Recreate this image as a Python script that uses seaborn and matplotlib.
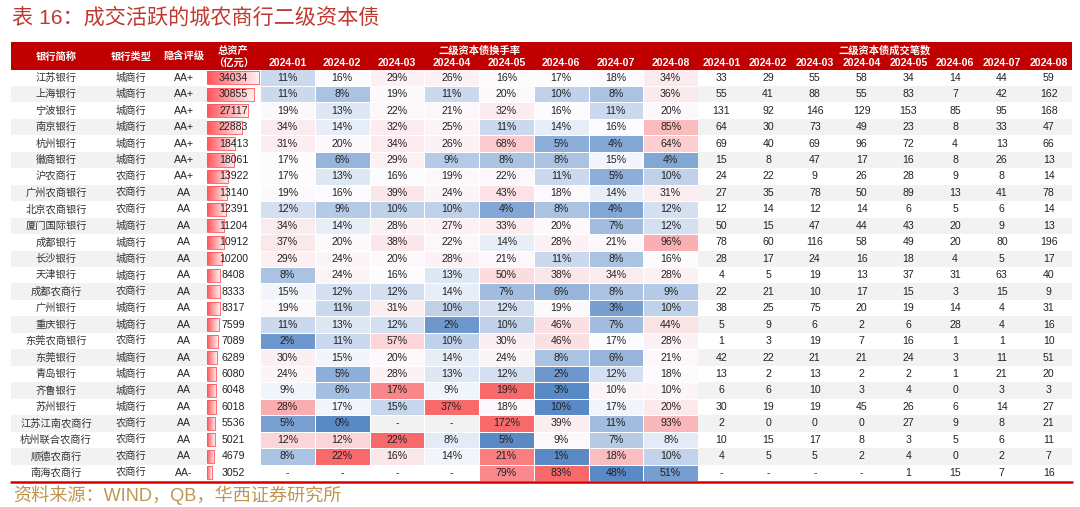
import matplotlib
matplotlib.use('Agg')
import numpy as np
import matplotlib.pyplot as plt
import seaborn as sns
from matplotlib.colors import LinearSegmentedColormap
from matplotlib.transforms import blended_transform_factory

W, H = 1080, 507

banks = ['江苏银行', '上海银行', '宁波银行', '南京银行', '杭州银行', '徽商银行', '沪农商行',
         '广州农商银行', '北京农商银行', '厦门国际银行', '成都银行', '长沙银行', '天津银行',
         '成都农商行', '广州银行', '重庆银行', '东莞农商银行', '东莞银行', '青岛银行', '齐鲁银行',
         '苏州银行', '江苏江南农商行', '杭州联合农商行', '顺德农商行', '南海农商行']
bank_types = ['城商行', '城商行', '城商行', '城商行', '城商行', '城商行', '农商行',
              '农商行', '农商行', '城商行', '城商行', '城商行', '城商行',
              '农商行', '城商行', '城商行', '农商行', '城商行', '城商行', '城商行',
              '城商行', '农商行', '农商行', '农商行', '农商行']
ratings = ['AA+'] * 7 + ['AA'] * 17 + ['AA-']
total_assets = [34034, 30855, 27117, 22883, 18413, 18061, 13922, 13140, 12391, 11204, 10912,
                10200, 8408, 8333, 8317, 7599, 7089, 6289, 6080, 6048, 6018, 5536, 5021, 4679, 3052]
months = ['2024-01', '2024-02', '2024-03', '2024-04', '2024-05', '2024-06', '2024-07', '2024-08']

# 二级资本债换手率 (%), None = '-'
turnover_pct = [
    [11, 16, 29, 26, 16, 17, 18, 34],
    [11, 8, 19, 11, 20, 10, 8, 36],
    [19, 13, 22, 21, 32, 16, 11, 20],
    [34, 14, 32, 25, 11, 14, 16, 85],
    [31, 20, 34, 26, 68, 5, 4, 64],
    [17, 6, 29, 9, 8, 8, 15, 4],
    [17, 13, 16, 19, 22, 11, 5, 10],
    [19, 16, 39, 24, 43, 18, 14, 31],
    [12, 9, 10, 10, 4, 8, 4, 12],
    [34, 14, 28, 27, 33, 20, 7, 12],
    [37, 20, 38, 22, 14, 28, 21, 96],
    [29, 24, 20, 28, 21, 11, 8, 16],
    [8, 24, 16, 13, 50, 38, 34, 28],
    [15, 12, 12, 14, 7, 6, 8, 9],
    [19, 11, 31, 10, 12, 19, 3, 10],
    [11, 13, 12, 2, 10, 46, 7, 44],
    [2, 11, 57, 10, 30, 46, 17, 28],
    [30, 15, 20, 14, 24, 8, 6, 21],
    [24, 5, 28, 13, 12, 2, 12, 18],
    [9, 6, 17, 9, 19, 3, 10, 10],
    [28, 17, 15, 37, 18, 10, 17, 20],
    [5, 0, None, None, 172, 39, 11, 93],
    [12, 12, 22, 8, 5, 9, 7, 8],
    [8, 22, 16, 14, 21, 1, 18, 10],
    [None, None, None, None, 79, 83, 48, 51],
]

# 二级资本债成交笔数, None = '-'
trade_counts = [
    [33, 29, 55, 58, 34, 14, 44, 59],
    [55, 41, 88, 55, 83, 7, 42, 162],
    [131, 92, 146, 129, 153, 85, 95, 168],
    [64, 30, 73, 49, 23, 8, 33, 47],
    [69, 40, 69, 96, 72, 4, 13, 66],
    [15, 8, 47, 17, 16, 8, 26, 13],
    [24, 22, 9, 26, 28, 9, 8, 14],
    [27, 35, 78, 50, 89, 13, 41, 78],
    [12, 14, 12, 14, 6, 5, 6, 14],
    [50, 15, 47, 44, 43, 20, 9, 13],
    [78, 60, 116, 58, 49, 20, 80, 196],
    [28, 17, 24, 16, 18, 4, 5, 17],
    [4, 5, 19, 13, 37, 31, 63, 40],
    [22, 21, 10, 17, 15, 3, 15, 9],
    [38, 25, 75, 20, 19, 14, 4, 31],
    [5, 9, 6, 2, 6, 28, 4, 16],
    [1, 3, 19, 7, 16, 1, 1, 10],
    [42, 22, 21, 21, 24, 3, 11, 51],
    [13, 2, 13, 2, 2, 1, 21, 20],
    [6, 6, 10, 3, 4, 0, 3, 3],
    [30, 19, 19, 45, 26, 6, 14, 27],
    [2, 0, 0, 0, 27, 9, 8, 21],
    [10, 15, 17, 8, 3, 5, 6, 11],
    [4, 5, 5, 2, 4, 0, 2, 7],
    [None, None, None, None, 1, 15, 7, 16],
]

# in the reference these rows carry their own (row-wise) colour scale,
# the others share one scale over the whole block
row_scaled_banks = ['齐鲁银行', '苏州银行', '江苏江南农商行', '杭州联合农商行', '顺德农商行', '南海农商行']

# ---- style ----
sns.set_style('white')
plt.rcParams['font.family'] = ['Liberation Sans', 'Noto Sans CJK SC', 'DejaVu Sans']
CJK = ['Noto Sans CJK SC', 'DejaVu Sans']
HEAD_RED = '#C00000'
TXT = '#222222'
STRIPE = '#F2F2F2'

n = len(banks)
turn = np.array([[np.nan if v is None else v for v in r] for r in turnover_pct], dtype=float)


def excel_scale(v, lo, mid, hi):
    # 3-colour scale: min -> -1, 50th percentile -> 0, max -> +1
    with np.errstate(invalid='ignore', divide='ignore'):
        return np.where(v < mid, (v - mid) / (mid - lo), (v - mid) / (hi - mid))


lo, mid, hi = np.nanmin(turn), np.nanpercentile(turn, 50), np.nanmax(turn)
scaled = excel_scale(turn, lo, mid, hi)
for i, b in enumerate(banks):
    if b in row_scaled_banks:
        r = turn[i]
        scaled[i] = excel_scale(r, np.nanmin(r), np.nanpercentile(r, 50), np.nanmax(r))

turn_labels = np.array([['-' if np.isnan(v) else f'{int(v)}%' for v in r] for r in turn])
excel_cmap = LinearSegmentedColormap.from_list('excel', ['#5A8AC6', '#FCFCFF', '#F8696B'])

# ---- layout in pixels ----
X0, X1 = 11, 1072
ASSET = (207, 260)
TURN = (260, 698)
CNT = (698, 1072)
HEAD_Y = (42, 69.5)
BODY_Y = (69.5, 481)


def px_axes(fig, x0, x1, y0, y1):
    return fig.add_axes([x0 / W, 1 - y1 / H, (x1 - x0) / W, (y1 - y0) / H])


fig = plt.figure(figsize=(W / 100, H / 100), dpi=100)

# striped background for the whole body
ax_bg = px_axes(fig, X0, X1, *BODY_Y)
ax_bg.set_xlim(0, 1)
ax_bg.set_ylim(n - 0.5, -0.5)
for i in range(1, n, 2):
    ax_bg.axhspan(i - 0.5, i + 0.5, color=STRIPE, lw=0)
ax_bg.set_axis_off()

# left text columns
ax_left = px_axes(fig, X0, ASSET[0], *BODY_Y)
ax_left.set_xlim(X0, ASSET[0])
ax_left.set_ylim(n - 0.5, -0.5)
ax_left.set_axis_off()
for i in range(n):
    ax_left.text(56, i, banks[i], ha='center', va='center', fontsize=7.4, color='#333333', family=CJK)
    ax_left.text(131, i, bank_types[i], ha='center', va='center', fontsize=7.4, color='#333333', family=CJK)
    ax_left.text(184, i, ratings[i], ha='center', va='center', fontsize=7.6, color=TXT)

# total assets: gradient data bars
ax_a = px_axes(fig, ASSET[0], ASSET[1], *BODY_Y)
sns.barplot(x=total_assets, y=banks, orient='h', ax=ax_a, width=0.8, color='#FF555A')
bar_cmap = LinearSegmentedColormap.from_list('bar', ['#FF555A', '#FFF2F2'])
grad = np.linspace(0, 1, 128).reshape(1, -1)
for p in list(ax_a.patches):
    x, y, w, h = p.get_x(), p.get_y(), p.get_width(), p.get_height()
    im = ax_a.imshow(grad, extent=[x, x + w, y + h, y], aspect='auto', cmap=bar_cmap, zorder=1)
    im.set_clip_path(p)
    p.set_facecolor('none')
    p.set_edgecolor('#FF555A')
    p.set_linewidth(0.6)
    p.set_zorder(2)
ax_a.set_xlim(0, max(total_assets) * 1.025)
ax_a.set_ylim(n - 0.5, -0.5)
ax_a.set_facecolor('white')
ax_a.set(xticks=[], yticks=[], xlabel='', ylabel='')
for s in ax_a.spines.values():
    s.set_visible(False)
tr = blended_transform_factory(ax_a.transAxes, ax_a.transData)
for i, v in enumerate(total_assets):
    ax_a.text(0.5, i, f'{v}', transform=tr, ha='center', va='center', fontsize=7.6, color=TXT, zorder=3)

# turnover heatmap
ax_t = px_axes(fig, TURN[0], TURN[1], *BODY_Y)
sns.heatmap(scaled, ax=ax_t, cmap=excel_cmap, vmin=-1, vmax=1, mask=np.isnan(turn),
            annot=turn_labels, fmt='', cbar=False, linewidths=0.5, linecolor='white',
            xticklabels=False, yticklabels=False,
            annot_kws=dict(fontsize=7.6, color=TXT))
for i in range(n):
    for j in range(len(months)):
        if np.isnan(turn[i, j]):
            ax_t.text(j + 0.5, i + 0.5, '-', ha='center', va='center', fontsize=7.6, color=TXT)
ax_t.set_axis_off()

# trade counts
ax_c = px_axes(fig, CNT[0], CNT[1], *BODY_Y)
ax_c.set_xlim(0, len(months))
ax_c.set_ylim(n - 0.5, -0.5)
ax_c.set_axis_off()
for i, r in enumerate(trade_counts):
    for j, v in enumerate(r):
        ax_c.text(j + 0.5, i, '-' if v is None else str(v), ha='center', va='center',
                  fontsize=7.6, color=TXT)

# header band
ax_h = px_axes(fig, X0, X1, *HEAD_Y)
ax_h.set_xlim(X0, X1)
ax_h.set_ylim(HEAD_Y[1], HEAD_Y[0])
ax_h.set_facecolor(HEAD_RED)
ax_h.set(xticks=[], yticks=[])
for s in ax_h.spines.values():
    s.set_visible(False)
hk = dict(color='white', fontweight='bold', ha='center', va='center')
for x, lab in zip([56, 131, 184], ['银行简称', '银行类型', '隐含评级']):
    ax_h.text(x, 56.5, lab, fontsize=7.4, family=CJK, **hk)
ax_h.text(sum(ASSET) / 2, 50.5, '总资产', fontsize=7.4, family=CJK, **hk)
ax_h.text(sum(ASSET) / 2, 62.5, '（亿元）', fontsize=7.4, family=CJK, **hk)
ax_h.text(sum(TURN) / 2, 50.5, '二级资本债换手率', fontsize=7.4, family=CJK, **hk)
ax_h.text(sum(CNT) / 2, 50.5, '二级资本债成交笔数', fontsize=7.4, family=CJK, **hk)
tw = (TURN[1] - TURN[0]) / len(months)
cw = (CNT[1] - CNT[0]) / len(months)
for k, m in enumerate(months):
    ax_h.text(TURN[0] + (k + 0.5) * tw, 62.5, m, fontsize=7.6, **hk)
    ax_h.text(CNT[0] + (k + 0.5) * cw, 62.5, m, fontsize=7.6, **hk)

# bottom rule
fig.add_artist(plt.Line2D([X0 / W, X1 / W], [1 - 482 / H, 1 - 482 / H], color='#D40000', lw=1.8))

# title and source
fig.text(12 / W, 1 - 18 / H, '表 16：成交活跃的城农商行二级资本债', fontsize=15.2,
         color='#C0392F', ha='left', va='center')
fig.text(13 / W, 1 - 495 / H, '资料来源：WIND，QB，华西证券研究所', fontsize=13.1,
         color='#BF9650', ha='left', va='center')

fig.savefig('out.png', dpi=100)
plt.close(fig)
